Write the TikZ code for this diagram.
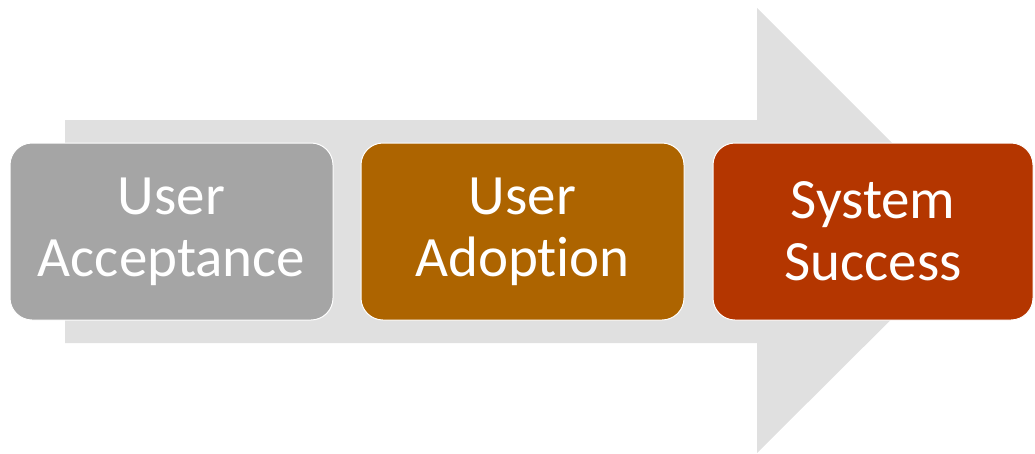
\documentclass[tikz,border=0pt]{standalone}
\usepackage{fontspec}
\setmainfont[Ligatures=NoCommon]{Carlito}
\definecolor{arrowgray}{HTML}{E0E0E0}
\definecolor{stepgray}{HTML}{A5A5A5}
\definecolor{steporange}{HTML}{AD6400}
\definecolor{stepred}{HTML}{B43600}
\begin{document}
\begin{tikzpicture}[x=1pt,y=-1pt,
  stagebox/.style={draw=white, line width=1pt, rounded corners=22pt,
    minimum width=323pt, minimum height=177pt, inner sep=0pt,
    text=white, align=center,
    font=\fontsize{57}{62}\selectfont}]
\useasboundingbox (0,0) rectangle (1035,453);
% large background arrow
\fill[arrowgray] (65,120) -- (757,120) -- (757,8) -- (980,231)
  -- (757,453) -- (757,343) -- (65,343) -- cycle;
% stages
\node[stagebox, fill=stepgray] (accept) at (171.5,231.5) {User\\Acceptance};
\node[stagebox, fill=steporange] (adopt) at (522.5,231.5) {User\\Adoption};
\node[stagebox, fill=stepred, minimum width=320pt] (success) at (873,231.5) {System\\Success};
\end{tikzpicture}
\end{document}
